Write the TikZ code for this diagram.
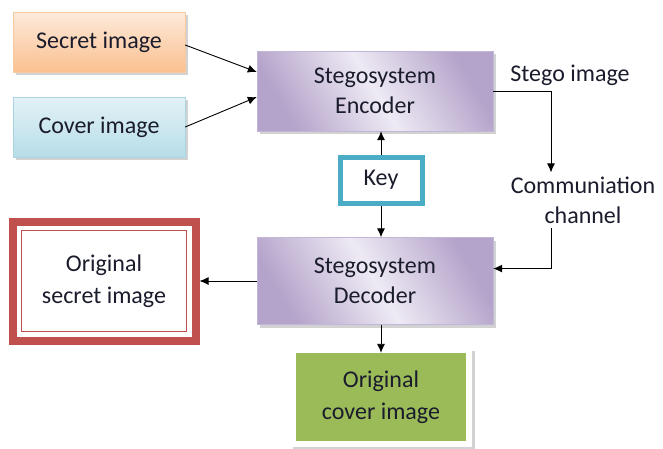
\documentclass[tikz,border=0pt]{standalone}
\usepackage{fontspec}
\setmainfont{Carlito}
\usetikzlibrary{arrows.meta,shadows,calc}
\definecolor{orgtop}{HTML}{FDEADA}
\definecolor{orgbot}{HTML}{FAC090}
\definecolor{orgline}{HTML}{F9C9A0}
\definecolor{bluetop}{HTML}{E3F2F6}
\definecolor{bluebot}{HTML}{B7DDE8}
\definecolor{blueline}{HTML}{A9D5E2}
\definecolor{lavdark}{HTML}{B4A3CA}
\definecolor{lavlight}{HTML}{EEEAF4}
\definecolor{keyline}{HTML}{4BACC6}
\definecolor{redline}{HTML}{C0504D}
\definecolor{greenfill}{HTML}{9BBB59}
\definecolor{txt}{HTML}{1A1C2C}
\tikzset{
  x=1pt, y=-1pt,
  every node/.style={font=\fontsize{24}{28}\selectfont, text=txt, align=center, inner sep=0pt},
  softshadow/.style={drop shadow={shadow xshift=3pt, shadow yshift=-3pt, opacity=0.35, fill=gray}},
  inbox/.style={rectangle, minimum width=172pt, minimum height=60pt, softshadow},
  stegobox/.style={rectangle, minimum width=236pt, minimum height=80pt, draw=lavdark!80,
    top color=lavdark, bottom color=lavdark, middle color=lavlight, shading angle=-60, softshadow},
  conn/.style={draw=black, line width=0.9pt, -{Latex[length=9pt,width=8pt]}},
  plainline/.style={draw=black, line width=0.9pt},
}
\begin{document}
\begin{tikzpicture}
\useasboundingbox (0,0) rectangle (663,448);
\fill[white] (0,0) rectangle (663,448);

% inputs
\node[inbox, draw=orgline, top color=orgtop, bottom color=orgbot] (secret) at (99,42) {Secret image};
\node[inbox, draw=blueline, top color=bluetop, bottom color=bluebot] (cover) at (99,127) {Cover image};

% encoder and decoder
\node[stegobox] (enc) at (375,91) {Stegosystem\\[2pt]Encoder};
\node[stegobox, minimum height=87pt] (dec) at (375,281) {Stegosystem\\[2pt]Decoder};

% key
\node[rectangle, draw=keyline, line width=5pt, fill=white, minimum width=82pt, minimum height=46pt] (key) at (381,180) {Key};

% channel labels
\node (stego) at (570,75) {Stego image};
\node (comm) at (583,200) {Communiation\\[2pt]channel};

% recovered secret image with double red frame
\node[rectangle, draw=redline, line width=8pt, fill=white, minimum width=183pt, minimum height=119pt] (osec) at (104,281) {};
\node[rectangle, draw=redline, line width=1.6pt, minimum width=165pt, minimum height=101pt] (oseci) at (osec.center) {Original\\[4pt]secret image};

% recovered cover image
\fill[gray!35] (293,351) rectangle (475,450);
\fill[white] (290,348) rectangle (472,447);
\node[rectangle, fill=greenfill, minimum width=170pt, minimum height=88pt] (ocov) at (381,397) {Original\\[4pt]cover image};

% connectors
\draw[conn] ([yshift=-3pt]secret.east) -- ([yshift=19pt]enc.west);
\draw[conn] (cover.east) -- ([yshift=-6pt]enc.west);
\draw[conn] (enc.east) -| ($(comm.north)+(-32,-4)$);
\draw[plainline] ($(comm.south)+(-32,4)$) coordinate (c2) -- ($(comm.south)+(-32,45)$) coordinate (turn2);
\draw[conn] (turn2) -- (dec.east |- turn2);
\draw[conn] (key.north) -- (key.north |- enc.south);
\draw[conn] (key.south) -- (key.south |- dec.north);
\draw[conn] (dec.west |- osec.east) -- (osec.east);
\draw[conn] (dec.south -| key.south) -- (ocov.north);
\end{tikzpicture}
\end{document}
